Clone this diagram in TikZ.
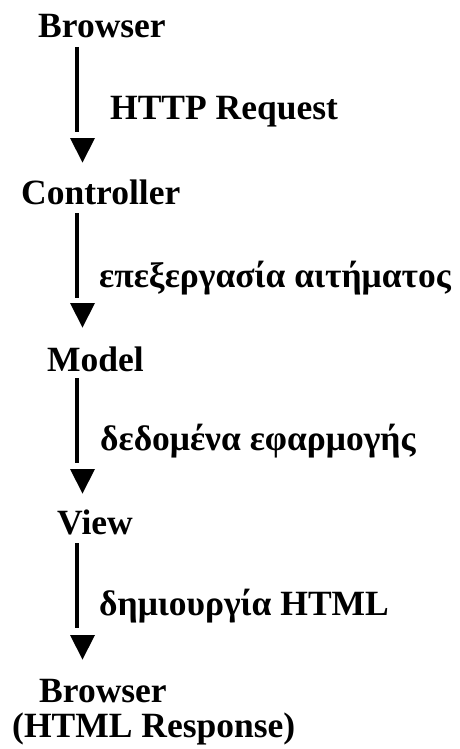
\documentclass[tikz,border=0pt]{standalone}
\usepackage{fontspec}
\setmainfont{Liberation Serif}
\begin{document}
\begin{tikzpicture}[x=1pt,y=-1pt,
  lbl/.style={anchor=base west,inner sep=0pt,font=\fontsize{35.5}{40}\selectfont\bfseries},
  vline/.style={line width=3.8pt},
  tri/.style={fill=black}]
\useasboundingbox (0,0) rectangle (460,749);
\node[lbl] (b1) at (38,38) {Browser};
\node[lbl] (l1) at (110,120) {HTTP Request};
\node[lbl] (c) at (21,204) {Controller};
\node[lbl] (l2) at (99,287) {επεξεργασία αιτήματος};
\node[lbl] (m) at (47,371) {Model};
\node[lbl] (l3) at (100,450) {δεδομένα εφαρμογής};
\node[lbl] (v) at (57,534) {View};
\node[lbl] (l4) at (99,615) {δημιουργία HTML};
\node[lbl] (b2) at (39,702) {Browser};
\node[lbl] (r) at (12,737) {(HTML Response)};
% connectors
\foreach \s/\e/\t in {47/132/138, 213/298/303, 378/463/469, 543/628/635}{
  \draw[vline] (77,\s) -- (77,\e);
  \fill[tri] (70,\t) -- (95,\t) -- (82.5,\t+24.5) -- cycle;
}
\end{tikzpicture}
\end{document}
